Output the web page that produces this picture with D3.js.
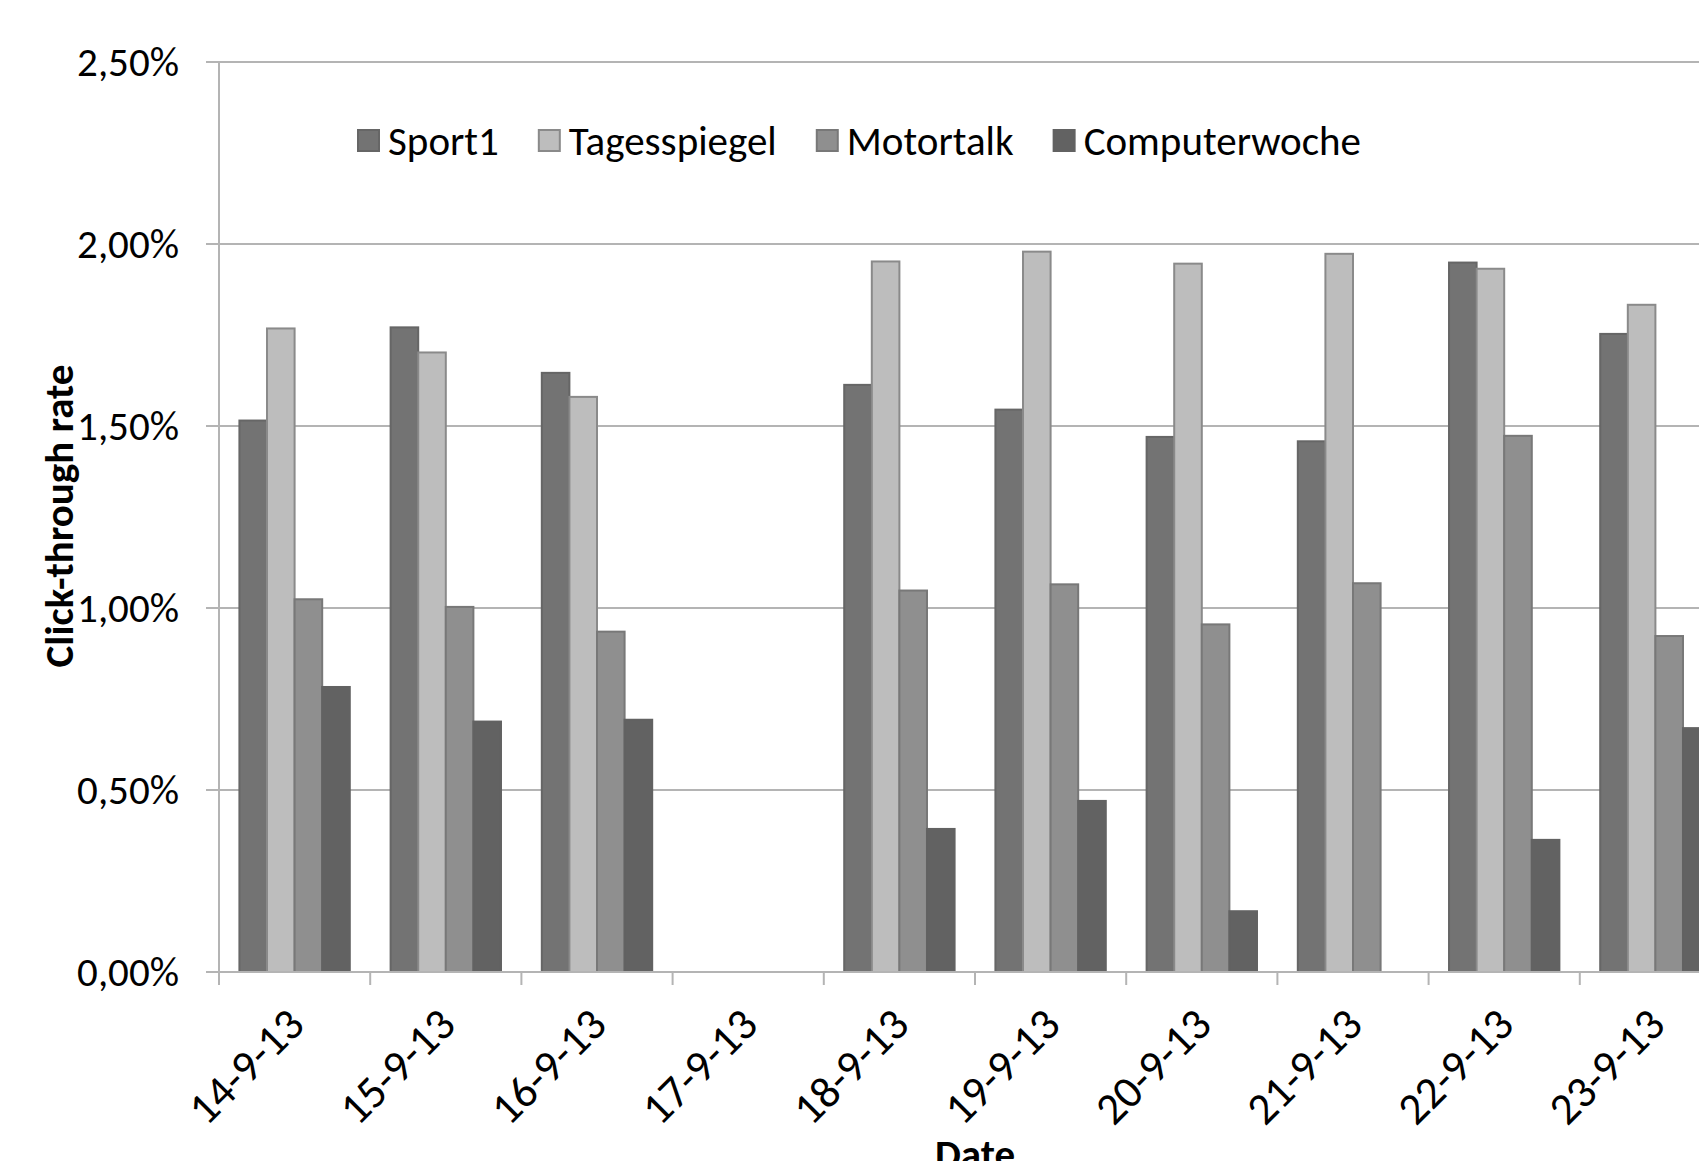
<!DOCTYPE html>
<html>
<head>
<meta charset="utf-8">
<script src="https://cdn.jsdelivr.net/npm/d3@7"></script>
<style>
  body { margin: 0; background: #fff; }
  svg { display: block; }
  .tick-label, .legend-label { font-family: Carlito, Lato, sans-serif; font-size: 41px; fill: #000; }
  .x-label { font-family: Carlito, Lato, sans-serif; font-size: 45px; fill: #000; }
  .axis-title { font-family: Carlito, Lato, sans-serif; font-size: 41px; font-weight: bold; fill: #000; }
</style>
</head>
<body>
<div id="chart"></div>
<script>
// Data (click-through rate in %)
const dates = ['14-9-13', '15-9-13', '16-9-13', '17-9-13', '18-9-13',
               '19-9-13', '20-9-13', '21-9-13', '22-9-13', '23-9-13'];
const seriesNames = ['Sport1', 'Tagesspiegel', 'Motortalk', 'Computerwoche'];
const sport1 =        [1.515, 1.771, 1.646, null, 1.613, 1.545, 1.470, 1.458, 1.949, 1.753];
const tagesspiegel =  [1.768, 1.702, 1.580, null, 1.952, 1.979, 1.946, 1.973, 1.932, 1.833];
const motortalk =     [1.024, 1.003, 0.935, null, 1.048, 1.065, 0.955, 1.068, 1.473, 0.923];
const computerwoche = [0.783, 0.688, 0.693, null, 0.393, 0.470, 0.167, null, 0.363, 0.670];
const yTicks = [0, 0.5, 1.0, 1.5, 2.0, 2.5];

const seriesValues = [sport1, tagesspiegel, motortalk, computerwoche];
const fills = ['#737373', '#bdbdbd', '#8f8f8f', '#626262'];
const strokes = ['#666666', '#8a8a8a', '#787878', '#626262'];

const width = 1699;
const height = 1161;
// plot area: the chart is cropped on the right, so it runs past the window
const plot = { left: 219, right: 1731, top: 62, bottom: 972 };

const svg = d3.select('#chart')
  .append('svg')
  .attr('width', width)
  .attr('height', height);

const x = d3.scaleBand()
  .domain(dates)
  .range([plot.left, plot.right])
  .padding(0);

const bw = x.bandwidth();
const gap = bw * 0.27;

const xInner = d3.scaleBand()
  .domain(seriesNames)
  .range([gap / 2, bw - gap / 2])
  .padding(0);

const y = d3.scaleLinear()
  .domain([0, 2.5])
  .range([plot.bottom, plot.top]);

const gridColor = '#b4b4b4';

// Horizontal gridlines
svg.append('g')
  .selectAll('line')
  .data(yTicks)
  .join('line')
  .attr('x1', plot.left - 13)
  .attr('x2', plot.right)
  .attr('y1', d => y(d))
  .attr('y2', d => y(d))
  .attr('stroke', gridColor)
  .attr('stroke-width', 2);

// Y axis line
svg.append('line')
  .attr('x1', plot.left).attr('x2', plot.left)
  .attr('y1', plot.top).attr('y2', plot.bottom + 13)
  .attr('stroke', gridColor)
  .attr('stroke-width', 2);

// Y tick labels
const fmt = d => d.toFixed(2).replace('.', ',') + '%';
svg.append('g')
  .selectAll('text')
  .data(yTicks)
  .join('text')
  .attr('class', 'tick-label')
  .attr('x', plot.left - 40)
  .attr('y', d => y(d))
  .attr('dy', '0.35em')
  .attr('text-anchor', 'end')
  .text(fmt);

// Category tick marks at band boundaries
svg.append('g')
  .selectAll('line')
  .data(dates)
  .join('line')
  .attr('x1', d => x(d) + bw)
  .attr('x2', d => x(d) + bw)
  .attr('y1', plot.bottom)
  .attr('y2', plot.bottom + 13)
  .attr('stroke', gridColor)
  .attr('stroke-width', 2);

// Bars
seriesNames.forEach((name, si) => {
  const rows = dates.map((d, i) => ({ date: d, value: seriesValues[si][i] }))
    .filter(r => r.value != null);
  svg.append('g')
    .selectAll('rect')
    .data(rows)
    .join('rect')
    .attr('x', d => x(d.date) + xInner(name))
    .attr('width', xInner.bandwidth())
    .attr('y', d => y(d.value))
    .attr('height', d => y(0) - y(d.value))
    .attr('fill', fills[si])
    .attr('stroke', strokes[si])
    .attr('stroke-width', 2);
});

// X axis baseline
svg.append('line')
  .attr('x1', plot.left).attr('x2', plot.right)
  .attr('y1', plot.bottom).attr('y2', plot.bottom)
  .attr('stroke', gridColor)
  .attr('stroke-width', 2);

// X tick labels, rotated
svg.append('g')
  .selectAll('text')
  .data(dates)
  .join('text')
  .attr('class', 'x-label')
  .attr('text-anchor', 'end')
  .attr('transform', d => `translate(${x(d) + bw / 2 + 12},${plot.bottom + 55}) rotate(-45)`)
  .text(d => d);

// Axis titles
svg.append('text')
  .attr('class', 'axis-title')
  .attr('text-anchor', 'middle')
  .attr('transform', `translate(${73},${516}) rotate(-90)`)
  .text('Click-through rate');

svg.append('text')
  .attr('class', 'axis-title')
  .attr('text-anchor', 'middle')
  .attr('x', (plot.left + plot.right) / 2)
  .attr('y', 1168)
  .text('Date');

// Legend
const legend = svg.append('g').attr('transform', 'translate(358,141)');
let lx = 0;
seriesNames.forEach((name, si) => {
  legend.append('rect')
    .attr('x', lx)
    .attr('y', -11)
    .attr('width', 21)
    .attr('height', 21)
    .attr('fill', fills[si])
    .attr('stroke', strokes[si])
    .attr('stroke-width', 2);
  const t = legend.append('text')
    .attr('class', 'legend-label')
    .attr('x', lx + 30)
    .attr('y', 0)
    .attr('dy', '0.35em')
    .text(name);
  lx += 30 + t.node().getComputedTextLength() + 40;
});
</script>
</body>
</html>
